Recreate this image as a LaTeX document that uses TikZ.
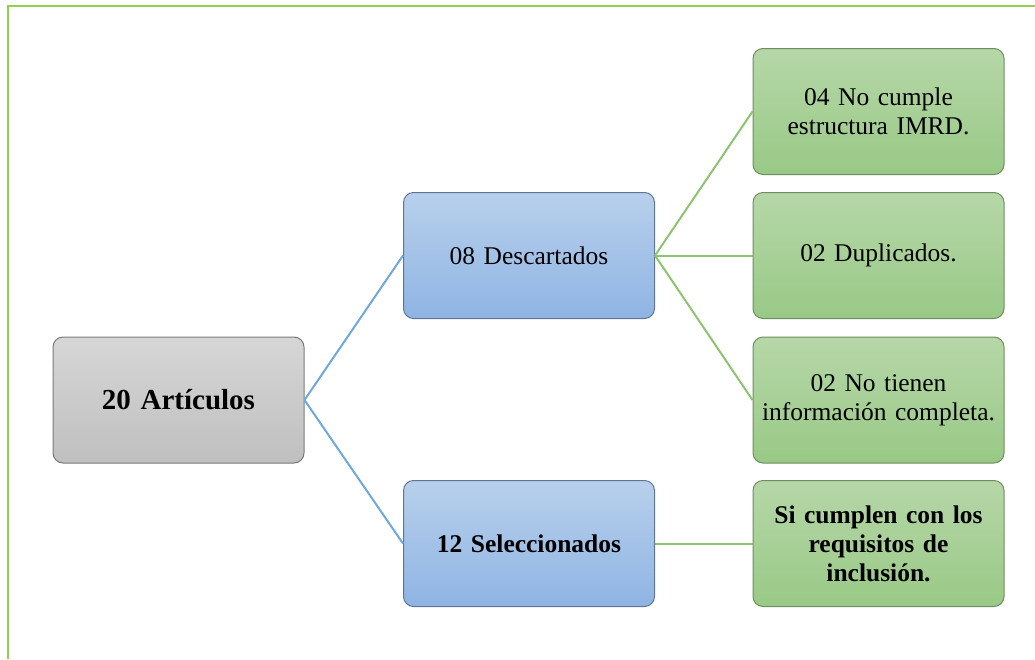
\documentclass[tikz,border=0pt]{standalone}
\usepackage{fontspec}
\setmainfont{Liberation Serif}
\begin{document}
\begin{tikzpicture}[x=1pt,y=-1pt,
  box/.style={rectangle, rounded corners=10pt, minimum width=251pt, minimum height=126pt,
    inner sep=0pt, align=center, text width=245pt, line width=1pt,
    font=\fontsize{25.5pt}{29pt}\selectfont},
  graybox/.style={box, draw=gray!95!black, top color=gray!32, bottom color=gray!50},
  bluebox/.style={box, draw=bluedraw, top color=bluetop, bottom color=bluebot},
  greenbox/.style={box, draw=greendraw, top color=greentop, bottom color=greenbot},
  blueline/.style={draw=blueln, line width=2pt},
  greenline/.style={draw=greenln, line width=2pt}]
\definecolor{bluedraw}{HTML}{5F7594}
\definecolor{bluetop}{HTML}{B8D0EC}
\definecolor{bluebot}{HTML}{8FB4E3}
\definecolor{greendraw}{HTML}{6D8F5C}
\definecolor{greentop}{HTML}{B6D7A8}
\definecolor{greenbot}{HTML}{99C986}
\definecolor{blueln}{HTML}{6FA8DC}
\definecolor{greenln}{HTML}{8CC56F}
\definecolor{frameln}{HTML}{92D050}
\useasboundingbox (0,0) rectangle (1035,659);
\draw[frameln, line width=2pt] (8,659) -- (8,6) -- (1035,6);
\node[graybox, font=\fontsize{29pt}{33pt}\selectfont\bfseries] (root) at (178.5,400) {20 Artículos};
\node[bluebox] (desc) at (529,255.5) {08 Descartados};
\node[bluebox, font=\fontsize{25.5pt}{29pt}\selectfont\bfseries] (sel) at (529,543.5) {12 Seleccionados};
\node[greenbox] (g1) at (878.5,111.5) {04 No cumple\\estructura IMRD.};
\node[greenbox] (g2) at (878.5,255.5) {02 Duplicados.};
\node[greenbox] (g3) at (878.5,400) {02 No tienen\\información completa.};
\node[greenbox, font=\fontsize{25.5pt}{29pt}\selectfont\bfseries] (g4) at (878.5,543.5) {Si cumplen con los\\requisitos de\\inclusión.};
\draw[blueline] (root.east) -- (desc.west);
\draw[blueline] (root.east) -- (sel.west);
\draw[greenline] (desc.east) -- (g1.west);
\draw[greenline] (desc.east) -- (g2.west);
\draw[greenline] (desc.east) -- (g3.west);
\draw[greenline] (sel.east) -- (g4.west);
\end{tikzpicture}
\end{document}
